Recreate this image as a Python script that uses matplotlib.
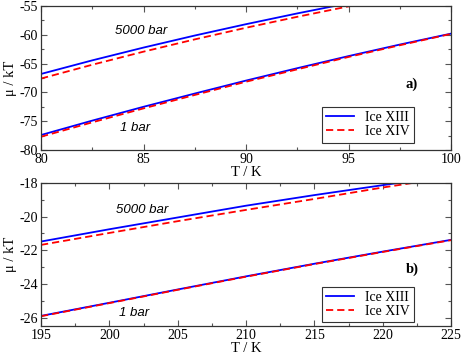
import matplotlib
matplotlib.use("Agg")
import matplotlib.pyplot as plt
from matplotlib.ticker import MultipleLocator

plt.rcParams["axes.unicode_minus"] = False

# panel a) low temperature
T_a = [80, 82.5, 85, 87.5, 90, 92.5, 95, 97.5]
xiii_5000_a = [-66.8, -64.44, -62.22, -60.13, -58.16, -56.29, -54.52, -52.8]
xiv_5000_a = [-67.6, -65.2, -62.93, -60.8, -58.78, -56.88, -55.07, -53.36]
T_a1 = [80, 82.5, 85, 87.5, 90, 92.5, 95, 97.5, 100]
xiii_1_a = [-77.4, -74.9, -72.5, -70.2, -67.95, -65.8, -63.7, -61.7, -59.8]
xiv_1_a = [-77.7, -75.2, -72.78, -70.45, -68.15, -66.0, -63.85, -61.82, -59.85]

# panel b) high temperature
T_b = [195, 200, 205, 210, 215, 220, 225]
xiii_5000_b = [-21.48, -20.75, -20.05, -19.35, -18.72, -18.13, -17.55]
xiv_5000_b = [-21.68, -20.97, -20.27, -19.6, -18.95, -18.27, -17.65]
xiii_1_b = [-25.9, -25.12, -24.33, -23.55, -22.8, -22.08, -21.38]
xiv_1_b = [-25.92, -25.14, -24.35, -23.57, -22.82, -22.1, -21.4]

serif = "Liberation Serif"
sans = "Liberation Sans"

fig = plt.figure(figsize=(4.63, 3.56), dpi=100)
ax1 = fig.add_axes([0.0886, 0.5787, 0.8855, 0.4045])
ax2 = fig.add_axes([0.0886, 0.0843, 0.8855, 0.4017])


def style(ax, xmaj, xmin, ymaj, ymin):
    ax.xaxis.set_major_locator(MultipleLocator(xmaj))
    ax.xaxis.set_minor_locator(MultipleLocator(xmin))
    ax.yaxis.set_major_locator(MultipleLocator(ymaj))
    ax.yaxis.set_minor_locator(MultipleLocator(ymin))
    ax.tick_params(which="both", direction="in", top=True, right=True,
                   color="#555555", width=0.8)
    ax.tick_params(which="major", length=4, labelsize=10, pad=2)
    ax.tick_params(which="minor", length=2.5)
    for lab in ax.get_xticklabels() + ax.get_yticklabels():
        lab.set_family(serif)
    for s in ax.spines.values():
        s.set_linewidth(0.9)
        s.set_color("#333333")
    ax.set_xlabel("T / K", family=serif, fontsize=10.5, labelpad=0)
    ax.set_ylabel("\u03bc / kT", family=serif, fontsize=10.5, labelpad=2)


def lines(ax, T5, b5, r5, T1, b1, r1):
    ax.plot(T5, b5, color="blue", lw=1.3, label="Ice XIII")
    ax.plot(T5, r5, color="red", lw=1.3, dashes=(4, 2.2), label="Ice XIV")
    ax.plot(T1, b1, color="blue", lw=1.3)
    ax.plot(T1, r1, color="red", lw=1.3, dashes=(4, 2.2))


lines(ax1, T_a, xiii_5000_a, xiv_5000_a, T_a1, xiii_1_a, xiv_1_a)
ax1.set_xlim(80, 100)
ax1.set_ylim(-80, -55)
style(ax1, 5, 2.5, 5, 2.5)
ax1.text(84.9, -59.3, "5000 bar", family=sans, style="italic", fontsize=9.5,
         ha="center", va="center")
ax1.text(84.6, -76.2, "1 bar", family=sans, style="italic", fontsize=9.5,
         ha="center", va="center")
ax1.text(98.1, -68.6, "a)", family=serif, weight="bold", fontsize=10.5,
         ha="center", va="center")

lines(ax2, T_b, xiii_5000_b, xiv_5000_b, T_b, xiii_1_b, xiv_1_b)
ax2.set_xlim(195, 225)
ax2.set_ylim(-26.5, -18)
style(ax2, 5, 2.5, 2, 1)
ax2.text(202.4, -19.6, "5000 bar", family=sans, style="italic", fontsize=9.5,
         ha="center", va="center")
ax2.text(201.8, -25.75, "1 bar", family=sans, style="italic", fontsize=9.5,
         ha="center", va="center")
ax2.text(222.2, -23.1, "b)", family=serif, weight="bold", fontsize=10.5,
         ha="center", va="center")

for ax, top in ((ax1, 0.30), (ax2, 0.275)):
    leg = ax.legend(loc="upper left", bbox_to_anchor=(0.685, top),
                    prop={"family": serif, "size": 10}, fancybox=False,
                    framealpha=1, edgecolor="#333333", handlelength=2.0,
                    handletextpad=0.8, borderpad=0.3, labelspacing=0.1,
                    borderaxespad=0)
    leg.get_frame().set_linewidth(0.8)

fig.savefig("out.png", dpi=100)
